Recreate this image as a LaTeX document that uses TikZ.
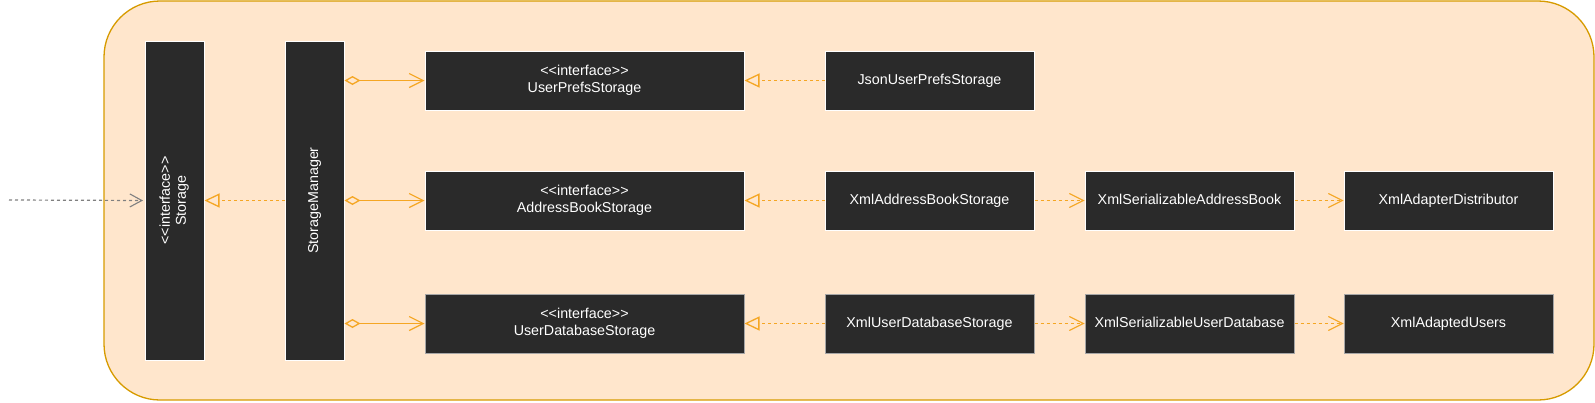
\documentclass[tikz,border=0pt]{standalone}
\usepackage{fontspec}
\usepackage{graphicx}
\setmainfont{Liberation Sans}[Ligatures=TeXOff]
\usetikzlibrary{arrows.meta}
\definecolor{bgfill}{HTML}{FFE6CC}
\definecolor{bgline}{HTML}{D79B00}
\definecolor{boxfill}{HTML}{2A2A2A}
\definecolor{arr}{HTML}{F5A623}
\definecolor{grayarr}{HTML}{808080}
\newcommand\stereo{<\kern0pt<interface>\kern0pt>}
\tikzset{
  cls/.style={draw=white, line width=1pt, fill=boxfill, text=white, align=center,
    inner sep=0pt, font=\fontsize{14.3}{17}\selectfont},
  clsg/.style={cls, draw=gray!70},
  one/.style={text height=10pt, text depth=3pt},
  dep/.style={arr, line width=1.3pt, dash pattern=on 3pt off 3pt,
    -{Straight Barb[length=14pt,width=14pt,line width=1.1pt]}},
  real/.style={arr, line width=1.3pt, dash pattern=on 3pt off 3pt,
    -{Triangle[open,length=15pt,width=14pt,line width=1.3pt]}},
  agg/.style={arr, line width=1.4pt,
    {Diamond[open,length=16pt,width=9pt,line width=1.3pt]}-{Straight Barb[length=14pt,width=14pt,line width=1.2pt]}},
  entry/.style={grayarr, line width=1.2pt, dash pattern=on 3pt off 3pt,
    -{Straight Barb[length=12pt,width=13pt,line width=1.1pt]}},
}
\begin{document}
\begin{tikzpicture}[x=1pt,y=-1pt]
\useasboundingbox (0,0) rectangle (1595,402);
\draw[bgline, fill=bgfill, line width=1.3pt, rounded corners=56pt] (104,1) rectangle (1594,400);

\node[cls, minimum width=59pt, minimum height=319pt] (st) at (174.5,200.5)
  {\rotatebox{90}{\begin{tabular}{@{}c@{}}\stereo\\[-1pt]Storage\end{tabular}}};
\node[cls, minimum width=59pt, minimum height=319pt] (sm) at (314.5,200.5)
  {\rotatebox{90}{StorageManager}};

\node[cls, minimum width=319pt, minimum height=59pt] (up) at (584.5,80.5)
  {\stereo\\UserPrefsStorage};
\node[cls, minimum width=319pt, minimum height=59pt] (ab) at (584.5,200.5)
  {\stereo\\AddressBookStorage};
\node[clsg, minimum width=319pt, minimum height=59pt] (ud) at (584.5,323.5)
  {\stereo\\UserDatabaseStorage};

\node[cls, one, minimum width=209pt, minimum height=59pt] (jp) at (929.5,80.5) {JsonUserPrefsStorage};
\node[cls, one, minimum width=209pt, minimum height=59pt] (xab) at (929.5,200.5) {XmlAddressBookStorage};
\node[clsg, one, minimum width=209pt, minimum height=59pt] (xud) at (929.5,323.5) {XmlUserDatabaseStorage};

\node[cls, one, minimum width=209pt, minimum height=59pt] (sab) at (1189.5,200.5) {XmlSerializableAddressBook};
\node[clsg, one, minimum width=209pt, minimum height=59pt] (sud) at (1189.5,323.5) {XmlSerializableUserDatabase};

\node[cls, one, minimum width=209pt, minimum height=59pt] (ad) at (1448.5,200.5) {XmlAdapterDistributor};
\node[clsg, one, minimum width=209pt, minimum height=59pt] (au) at (1448.5,323.5) {XmlAdaptedUsers};

\coordinate (in) at (9,200);
\draw[entry] (in) -- ([xshift=-1.5pt]st.west);
\draw[real] (sm.west) -- (st.east);

\draw[agg] (up.west -| sm.east) -- (up.west);
\draw[agg] (ab.west -| sm.east) -- (ab.west);
\draw[agg] (ud.west -| sm.east) -- (ud.west);

\draw[real] (jp.west) -- (up.east);
\draw[real] (xab.west) -- (ab.east);
\draw[real] (xud.west) -- (ud.east);

\draw[dep] (xab.east) -- (sab.west);
\draw[dep] (sab.east) -- (ad.west);
\draw[dep] (xud.east) -- (sud.west);
\draw[dep] (sud.east) -- (au.west);
\end{tikzpicture}
\end{document}
